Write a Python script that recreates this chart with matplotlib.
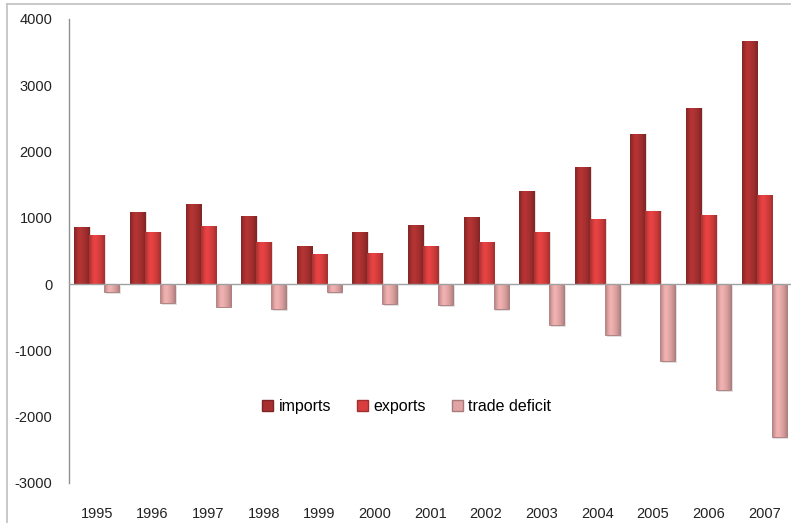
import numpy as np
import matplotlib
matplotlib.use("Agg")
import matplotlib.pyplot as plt
from matplotlib.colors import to_rgb
from matplotlib.lines import Line2D

# --- datos ---
years = ["1995", "1996", "1997", "1998", "1999", "2000", "2001",
         "2002", "2003", "2004", "2005", "2006", "2007"]
imports = [860, 1085, 1205, 1025, 580, 780, 890, 1020, 1410, 1760, 2260, 2660, 3670]
exports = [740, 790, 880, 630, 460, 470, 570, 640, 790, 990, 1100, 1050, 1340]
deficit = [-120, -290, -340, -380, -120, -300, -320, -380, -620, -770, -1160, -1600, -2310]

plt.rcParams['font.family'] = ['Liberation Sans', 'DejaVu Sans']
plt.rcParams['axes.unicode_minus'] = False

fig = plt.figure(figsize=(7.91, 5.23), dpi=100)
ax = fig.add_axes([69 / 791, 40 / 523, 723 / 791, 464 / 523])

x = np.arange(len(years))
w = 0.27
series = [
    (imports, -w, "#a83030", "imports"),
    (exports, 0, "#d83e3e", "exports"),
    (deficit, w, "#e0a4a4", "trade deficit"),
]


def gradiente(ax, bar, color):
    # brillo horizontal tipo Excel 2007
    c = np.array(to_rgb(color))
    prof = np.array([0.82, 0.95, 1.05, 1.08, 1.05, 1.0, 0.95, 0.88, 0.78])
    img = np.clip(c[None, None, :] * prof[None, :, None], 0, 1)
    x0, y0 = bar.get_x(), bar.get_y()
    bw, bh = bar.get_width(), bar.get_height()
    im = ax.imshow(img, extent=[x0, x0 + bw, y0, y0 + bh], aspect='auto',
                   interpolation='bilinear', zorder=3)
    im.set_clip_path(bar)


for vals, off, col, lab in series:
    bars = ax.bar(x + off, vals, w, color=col, edgecolor=tuple(np.array(to_rgb(col)) * 0.75),
                  linewidth=0.6, label=lab, zorder=2)
    for b in bars:
        # sombra
        ax.bar(b.get_x() + b.get_width() / 2 + 0.03, b.get_height(), w, bottom=-25 if b.get_height() < 0 else 0,
               color="#000000", alpha=0.12, zorder=1, linewidth=0)
        gradiente(ax, b, col)

ax.set_xlim(-0.5, len(years) - 0.5)
ax.set_ylim(-3000, 4000)
ax.axhline(0, color="#a0a0a0", linewidth=1, zorder=4)

ax.set_yticks(range(-3000, 4001, 1000))
ax.set_xticks(x)
ax.set_xticklabels(years)
ax.tick_params(axis='both', length=0, labelsize=10.5, colors="#222222")
ax.tick_params(axis='y', pad=12)
ax.tick_params(axis='x', pad=17)

for s in ["top", "right", "bottom"]:
    ax.spines[s].set_visible(False)
ax.spines["left"].set_color("#909090")
ax.spines["left"].set_linewidth(1)

handles = [plt.Rectangle((0, 0), 1, 1, facecolor=c, edgecolor=tuple(np.array(to_rgb(c)) * 0.75))
           for _, _, c, _ in series]
ax.legend(handles, [s[3] for s in series], loc="center", bbox_to_anchor=(0.467, 0.164),
          ncol=3, frameon=False, fontsize=11.5, handlelength=0.7, handleheight=0.7,
          handletextpad=0.35, columnspacing=1.6)

# borde del grafico
fig.add_artist(Line2D([7 / 791, 7 / 791], [0, 1 - 4 / 523], transform=fig.transFigure,
                      color="#c0c0c0", linewidth=1.2))
fig.add_artist(Line2D([7 / 791, 1], [1 - 4 / 523, 1 - 4 / 523], transform=fig.transFigure,
                      color="#c0c0c0", linewidth=1.2))

fig.savefig("out.png", dpi=100)
